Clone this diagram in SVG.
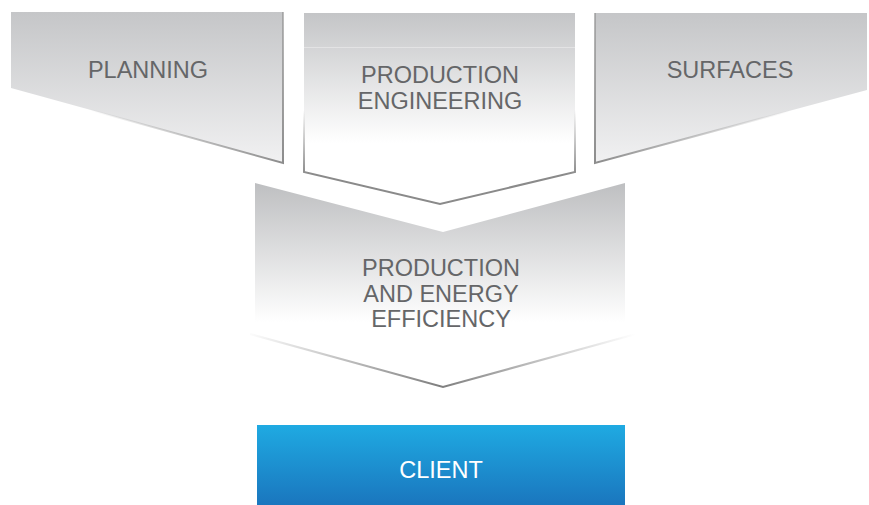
<svg xmlns="http://www.w3.org/2000/svg" width="869" height="505" viewBox="0 0 869 505">
  <defs>
    <linearGradient id="gSide" x1="0" y1="0" x2="0" y2="1">
      <stop offset="0" stop-color="#c5c6c8"/>
      <stop offset="1" stop-color="#f1f1f2"/>
    </linearGradient>
    <linearGradient id="gPE" gradientUnits="userSpaceOnUse" x1="0" y1="13" x2="0" y2="204">
      <stop offset="0" stop-color="#c4c5c7"/>
      <stop offset="0.68" stop-color="#ffffff"/>
      <stop offset="1" stop-color="#ffffff"/>
    </linearGradient>
    <linearGradient id="gMid" gradientUnits="userSpaceOnUse" x1="0" y1="183" x2="0" y2="388">
      <stop offset="0" stop-color="#bebfc1"/>
      <stop offset="0.68" stop-color="#ffffff"/>
      <stop offset="1" stop-color="#ffffff"/>
    </linearGradient>
    <linearGradient id="gClient" x1="0" y1="0" x2="0" y2="1">
      <stop offset="0" stop-color="#1faae2"/>
      <stop offset="1" stop-color="#1a76be"/>
    </linearGradient>
    <linearGradient id="sPlan" gradientUnits="userSpaceOnUse" x1="120" y1="60" x2="283" y2="163">
      <stop offset="0" stop-color="#909090" stop-opacity="0"/>
      <stop offset="1" stop-color="#8c8c8c"/>
    </linearGradient>
    <linearGradient id="sSurf" gradientUnits="userSpaceOnUse" x1="760" y1="60" x2="595" y2="163">
      <stop offset="0" stop-color="#909090" stop-opacity="0"/>
      <stop offset="1" stop-color="#8c8c8c"/>
    </linearGradient>
    <linearGradient id="sPE" gradientUnits="userSpaceOnUse" x1="0" y1="110" x2="0" y2="175">
      <stop offset="0" stop-color="#8a8a8a" stop-opacity="0"/>
      <stop offset="1" stop-color="#8a8a8a"/>
    </linearGradient>
    <linearGradient id="sMid" gradientUnits="userSpaceOnUse" x1="245" y1="0" x2="635" y2="0">
      <stop offset="0" stop-color="#858585" stop-opacity="0"/>
      <stop offset="0.5" stop-color="#7e7e7e"/>
      <stop offset="1" stop-color="#858585" stop-opacity="0"/>
    </linearGradient>
  </defs>
  <style>
    .lbl { font-family: "Liberation Sans", Arial, sans-serif; font-size: 23.5px; fill: #656668; text-anchor: middle; }
    .lblw { font-family: "Liberation Sans", Arial, sans-serif; font-size: 23.5px; fill: #ffffff; text-anchor: middle; }
    .edge { fill: none; stroke-width: 2; stroke-linejoin: miter; }
  </style>

  <g id="planning">
    <polygon points="11,12 283,12 283,163 11,88" fill="url(#gSide)"/>
    <path class="edge" d="M11,88 L283,163 L283,12" stroke="url(#sPlan)"/>
    <text class="lbl" x="148" y="78">PLANNING</text>
  </g>

  <g id="production-engineering">
    <polygon points="304,13 575,13 575,172 440,204 304,172" fill="url(#gPE)"/>
    <line x1="304" y1="47.5" x2="575" y2="47.5" stroke="#ffffff" stroke-opacity="0.35" stroke-width="1.2"/>
    <path class="edge" d="M304,100 L304,172 L440,204 L575,172 L575,100" stroke="url(#sPE)"/>
    <text class="lbl" x="440" y="83">PRODUCTION</text>
    <text class="lbl" x="440" y="109">ENGINEERING</text>
  </g>

  <g id="surfaces">
    <polygon points="595,13 867,13 867,90 595,163" fill="url(#gSide)"/>
    <path class="edge" d="M595,13 L595,163 L867,90" stroke="url(#sSurf)"/>
    <text class="lbl" x="730" y="78">SURFACES</text>
  </g>

  <g id="production-energy-efficiency">
    <polygon points="255,183 443,232 625,183 625,338 443,388 255,338" fill="url(#gMid)"/>
    <path class="edge" d="M250,334 L443,387 L636,334" stroke="url(#sMid)"/>
    <text class="lbl" x="441" y="276">PRODUCTION</text>
    <text class="lbl" x="441" y="301.5">AND ENERGY</text>
    <text class="lbl" x="441" y="327">EFFICIENCY</text>
  </g>

  <g id="client">
    <rect x="257" y="425" width="368" height="80" fill="url(#gClient)"/>
    <text class="lblw" x="441" y="477.5">CLIENT</text>
  </g>

  <g id="connectors"></g>
</svg>
